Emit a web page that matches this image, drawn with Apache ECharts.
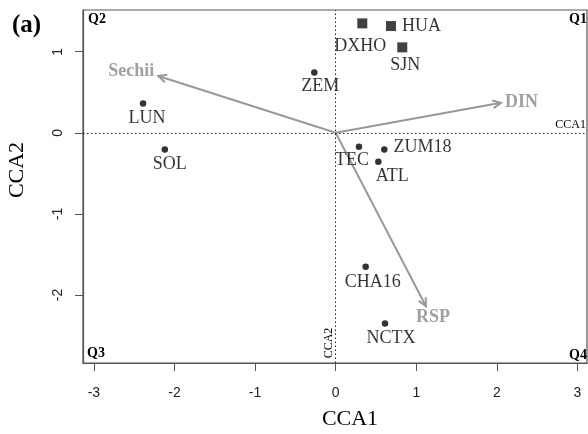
<!DOCTYPE html>
<html>
<head>
<meta charset="utf-8">
<script src="https://cdn.jsdelivr.net/npm/echarts@6/dist/echarts.min.js"></script>
<style>
html,body{margin:0;padding:0;background:#fff;}
#chart{width:588px;height:434px;}
</style>
</head>
<body>
<div id="chart"></div>
<script>
// ---- data ----
const dotSites = ['LUN', 'SOL', 'ZEM', 'TEC', 'ZUM18', 'ATL', 'CHA16', 'NCTX'];
const dotCCA1 = [-2.39, -2.12, -0.265, 0.289, 0.603, 0.529, 0.372, 0.612];
const dotCCA2 = [0.363, -0.205, 0.745, -0.173, -0.205, -0.358, -1.654, -2.353];
const squareSites = ['DXHO', 'HUA', 'SJN'];
const squareCCA1 = [0.33, 0.686, 0.826];
const squareCCA2 = [1.35, 1.317, 1.054];
const envVars = ['Sechii', 'DIN', 'RSP'];
const envCCA1 = [-2.2, 2.05, 1.12];
const envCCA2 = [0.70, 0.37, -2.14];
const xTicks = [-3, -2, -1, 0, 1, 2, 3];
const yTicks = [-2, -1, 0, 1];

// ---- label placement (style only) ----
const labelOffset = {
  LUN: [4, 15], SOL: [5, 15], ZEM: [6, 14], TEC: [-7, 13], ZUM18: [null, -2],
  ATL: [14, 14], CHA16: [7, 15], NCTX: [6, 15],
  DXHO: [-2, 23], HUA: [null, 0], SJN: [3, 18]
};
const envLabelStyle = {
  Sechii: { dx: -4, dy: -5, align: 'right' },
  DIN: { dx: 4, dy: 0, align: 'left' },
  RSP: { dx: 7, dy: 11, align: 'center' }
};

const serif = '"Liberation Serif", "Times New Roman", serif';
const sans = '"Liberation Sans", Arial, sans-serif';

function siteLabel(name) {
  const o = labelOffset[name];
  if (o[0] === null) {
    return { show: true, position: 'right', distance: 6, offset: [0, o[1]], formatter: name,
      fontFamily: serif, fontSize: 18, color: '#000' };
  }
  return { show: true, position: 'inside', offset: o, formatter: name,
    fontFamily: serif, fontSize: 18, color: '#000', align: 'center', verticalAlign: 'middle' };
}

const dotData = dotSites.map((n, i) => ({ name: n, value: [dotCCA1[i], dotCCA2[i]], label: siteLabel(n) }));
const squareData = squareSites.map((n, i) => ({ name: n, value: [squareCCA1[i], squareCCA2[i]], label: siteLabel(n) }));
const envData = envVars.map((n, i) => [envCCA1[i], envCCA2[i], n]);

const chart = echarts.init(document.getElementById('chart'), null, { renderer: 'canvas' });
const axisColor = '#555';

chart.setOption({
  animation: false,
  backgroundColor: '#fff',
  grid: { left: 83, top: 10, right: 1, bottom: 71, show: true, borderColor: axisColor, borderWidth: 1.2, containLabel: false },
  xAxis: {
    type: 'value', min: -3.135, max: 3.118,
    axisLine: { show: true, onZero: false, lineStyle: { color: axisColor, width: 1.2 } },
    axisTick: { show: true, customValues: xTicks, length: 8, lineStyle: { color: axisColor } },
    axisLabel: { customValues: xTicks, fontFamily: sans, fontSize: 14, color: '#222', margin: 23 },
    splitLine: { show: false }
  },
  yAxis: {
    type: 'value', min: -2.84, max: 1.515,
    axisLine: { show: true, onZero: false, lineStyle: { color: axisColor, width: 1.2 } },
    axisTick: { show: true, customValues: yTicks, length: 8, lineStyle: { color: axisColor } },
    axisLabel: { customValues: yTicks, fontFamily: sans, fontSize: 14, color: '#222', margin: 18, rotate: 90 },
    splitLine: { show: false }
  },
  graphic: [
    { type: 'text', left: 12, top: 13, style: { text: '(a)', font: 'bold 25px ' + serif, fill: '#000' } },
    { type: 'text', x: 350, y: 419, style: { text: 'CCA1', font: '22px ' + serif, fill: '#000', align: 'center', verticalAlign: 'middle' } },
    { type: 'text', x: 17, y: 170, rotation: Math.PI / 2, style: { text: 'CCA2', font: '22px ' + serif, fill: '#000', align: 'center', verticalAlign: 'middle' } },
    { type: 'text', x: 88, y: 19, style: { text: 'Q2', font: 'bold 14px ' + serif, fill: '#000', align: 'left', verticalAlign: 'middle' } },
    { type: 'text', x: 587, y: 19, style: { text: 'Q1', font: 'bold 14px ' + serif, fill: '#000', align: 'right', verticalAlign: 'middle' } },
    { type: 'text', x: 87, y: 353, style: { text: 'Q3', font: 'bold 14px ' + serif, fill: '#000', align: 'left', verticalAlign: 'middle' } },
    { type: 'text', x: 587, y: 355, style: { text: 'Q4', font: 'bold 14px ' + serif, fill: '#000', align: 'right', verticalAlign: 'middle' } },
    { type: 'text', x: 586, y: 125, style: { text: 'CCA1', font: '12px ' + serif, fill: '#000', align: 'right', verticalAlign: 'middle' } },
    { type: 'text', x: 329, y: 343, rotation: Math.PI / 2, style: { text: 'CCA2', font: '12px ' + serif, fill: '#000', align: 'center', verticalAlign: 'middle' } }
  ],
  series: [
    {
      type: 'scatter', name: 'refs', data: [], silent: true,
      markLine: {
        silent: true, symbol: 'none', animation: false,
        label: { show: false },
        lineStyle: { type: [1.5, 2.5], color: '#222', width: 1 },
        data: [{ xAxis: 0 }, { yAxis: 0 }]
      }
    },
    {
      type: 'custom', name: 'env',
      data: envData,
      renderItem: function (params, api) {
        const o = api.coord([0, 0]);
        const p = api.coord([api.value(0), api.value(1)]);
        const name = envVars[params.dataIndex];
        const ang = Math.atan2(p[1] - o[1], p[0] - o[0]);
        const hl = 9, ha = Math.PI / 7;
        const h1 = [p[0] - hl * Math.cos(ang - ha), p[1] - hl * Math.sin(ang - ha)];
        const h2 = [p[0] - hl * Math.cos(ang + ha), p[1] - hl * Math.sin(ang + ha)];
        const ls = envLabelStyle[name];
        const col = '#999';
        return {
          type: 'group',
          children: [
            { type: 'line', shape: { x1: o[0], y1: o[1], x2: p[0], y2: p[1] }, style: { stroke: col, lineWidth: 2 } },
            { type: 'polyline', shape: { points: [h1, p, h2] }, style: { stroke: col, lineWidth: 2, fill: null } },
            { type: 'text', x: p[0] + ls.dx, y: p[1] + ls.dy, style: { text: name, font: 'bold 18px ' + serif, fill: '#a0a0a0', align: ls.align, verticalAlign: 'middle' } }
          ]
        };
      },
      z: 3
    },
    {
      type: 'scatter', name: 'dots', data: dotData,
      symbol: 'circle', symbolSize: 6.5,
      itemStyle: { color: '#000' },
      z: 4
    },
    {
      type: 'scatter', name: 'squares', data: squareData,
      symbol: 'rect', symbolSize: 10,
      itemStyle: { color: '#111' },
      z: 4
    }
  ]
});
</script>
</body>
</html>
